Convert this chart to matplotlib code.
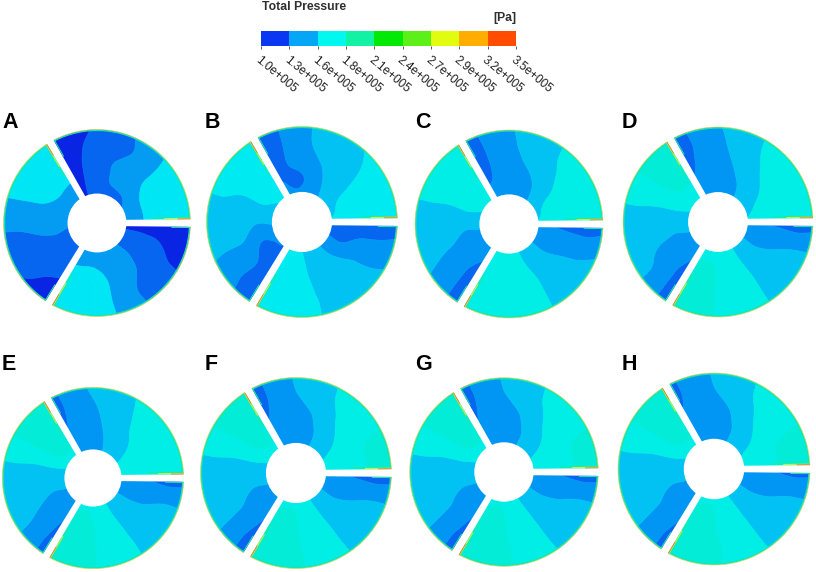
import numpy as np
import matplotlib
matplotlib.use("Agg")
import matplotlib.pyplot as plt
from matplotlib.colors import ListedColormap
from matplotlib.patches import Circle, Polygon

plt.rcParams["font.family"] = ["Liberation Sans", "DejaVu Sans"]

W, H = 816, 572

# colour bar
bar_ticks = ["1.0e+005", "1.3e+005", "1.6e+005", "1.8e+005", "2.1e+005",
             "2.4e+005", "2.7e+005", "2.9e+005", "3.2e+005", "3.5e+005"]
bar_colors = ["#0a38f2", "#06a6f6", "#00f8ee", "#12f2a4", "#02ea04",
              "#5cf018", "#e2fc10", "#ffae00", "#ff4c00"]

# bands used inside the discs, 1e5 Pa
levels = [0.9, 1.15, 1.3, 1.45, 1.6, 1.75, 2.2]
disc_colors = ["#0a24e4", "#0666f0", "#0296f4", "#02c2f4", "#00eee6", "#02ecd8"]
# panel A shows no sky band, mid goes straight to cyan
disc_colors_a = ["#0a24e4", "#0666f0", "#049cf2", "#00e6f4", "#00e6f4", "#02ecd8"]
disc_colors_b = ["#0a24e4", "#0666f0", "#0296f4", "#02c2f4", "#00eaf2", "#02ecd8"]
panel_colors = [disc_colors_a, disc_colors_b] + [disc_colors] * 6

# panel letters and where they sit
letters = ["A", "B", "C", "D", "E", "F", "G", "H"]
centers = [(97, 223), (302, 222), (509, 224), (718, 222),
           (93, 478), (296, 473), (504, 472), (714, 469)]
radii = [93.5, 95.5, 94, 95, 90.7, 95.5, 94.3, 96]
letter_pos = [(2, 122), (205, 122), (415, 122), (622, 122),
              (2, 365), (205, 365), (415, 365), (622, 365)]

gap_angles = [0, 120, 239]
hub_ratio = 0.315

# table rows: radius fraction, columns: fraction across the sector
table_r = [0.25, 0.45, 0.65, 0.85, 1.1]
table_t = [0, 0.2, 0.4, 0.6, 0.8, 1.0]

panel_a = [
    [[1.37, 1.30, 1.22, 1.22, 1.20, 1.10],
     [1.37, 1.37, 1.33, 1.31, 1.20, 1.08],
     [1.67, 1.67, 1.37, 1.32, 1.20, 1.05],
     [1.67, 1.67, 1.37, 1.25, 1.17, 1.05],
     [1.67, 1.67, 1.42, 1.27, 1.12, 1.05]],
    [[1.37, 1.37, 1.37, 1.28, 1.22, 1.20],
     [1.37, 1.40, 1.37, 1.32, 1.22, 1.20],
     [1.60, 1.67, 1.37, 1.30, 1.22, 1.18],
     [1.67, 1.67, 1.40, 1.27, 1.20, 1.05],
     [1.67, 1.67, 1.42, 1.26, 1.12, 1.03]],
    [[1.37, 1.37, 1.37, 1.30, 1.22, 1.08],
     [1.40, 1.42, 1.37, 1.32, 1.22, 1.08],
     [1.55, 1.67, 1.37, 1.30, 1.20, 1.07],
     [1.67, 1.67, 1.37, 1.24, 1.13, 1.05],
     [1.67, 1.67, 1.40, 1.25, 1.10, 1.03]],
]
panel_b = [
    [[1.60, 1.50, 1.48, 1.37, 1.37, 1.34],
     [1.67, 1.65, 1.52, 1.40, 1.22, 1.33],
     [1.67, 1.67, 1.55, 1.45, 1.37, 1.18],
     [1.67, 1.67, 1.58, 1.52, 1.37, 1.16],
     [1.67, 1.67, 1.62, 1.52, 1.38, 1.16]],
    [[1.64, 1.55, 1.50, 1.45, 1.37, 1.30],
     [1.67, 1.67, 1.54, 1.38, 1.22, 1.27],
     [1.67, 1.67, 1.52, 1.50, 1.36, 1.18],
     [1.67, 1.67, 1.58, 1.52, 1.35, 1.16],
     [1.67, 1.67, 1.58, 1.52, 1.42, 1.16]],
    [[1.60, 1.62, 1.52, 1.42, 1.30, 1.30],
     [1.67, 1.67, 1.52, 1.45, 1.26, 1.22],
     [1.67, 1.67, 1.56, 1.52, 1.37, 1.18],
     [1.67, 1.67, 1.58, 1.52, 1.40, 1.18],
     [1.67, 1.67, 1.58, 1.52, 1.45, 1.22]],
]
panel_c = [
    [[1.60, 1.50, 1.45, 1.37, 1.37, 1.34],
     [1.67, 1.66, 1.50, 1.36, 1.32, 1.30],
     [1.67, 1.67, 1.58, 1.46, 1.37, 1.22],
     [1.67, 1.67, 1.62, 1.52, 1.38, 1.22],
     [1.67, 1.67, 1.64, 1.52, 1.42, 1.22]],
    [[1.66, 1.62, 1.54, 1.46, 1.38, 1.34],
     [1.70, 1.70, 1.58, 1.42, 1.36, 1.30],
     [1.72, 1.72, 1.56, 1.50, 1.38, 1.22],
     [1.74, 1.72, 1.58, 1.52, 1.42, 1.20],
     [1.74, 1.72, 1.58, 1.52, 1.46, 1.20]],
    [[1.62, 1.66, 1.60, 1.50, 1.38, 1.36],
     [1.70, 1.70, 1.62, 1.50, 1.37, 1.30],
     [1.70, 1.70, 1.66, 1.52, 1.42, 1.24],
     [1.70, 1.70, 1.66, 1.52, 1.44, 1.20],
     [1.70, 1.70, 1.66, 1.52, 1.50, 1.24]],
]
panel_d = [
    [[1.60, 1.52, 1.48, 1.38, 1.36, 1.34],
     [1.68, 1.62, 1.50, 1.42, 1.34, 1.32],
     [1.70, 1.70, 1.60, 1.47, 1.37, 1.26],
     [1.70, 1.70, 1.66, 1.52, 1.38, 1.22],
     [1.70, 1.70, 1.68, 1.54, 1.42, 1.22]],
    [[1.66, 1.62, 1.56, 1.50, 1.38, 1.34],
     [1.74, 1.74, 1.58, 1.46, 1.36, 1.30],
     [1.78, 1.78, 1.58, 1.50, 1.38, 1.24],
     [1.78, 1.78, 1.60, 1.52, 1.46, 1.20],
     [1.78, 1.78, 1.60, 1.52, 1.48, 1.20]],
    [[1.64, 1.70, 1.66, 1.52, 1.42, 1.36],
     [1.76, 1.76, 1.68, 1.52, 1.40, 1.30],
     [1.76, 1.76, 1.70, 1.54, 1.44, 1.26],
     [1.76, 1.76, 1.70, 1.54, 1.50, 1.20],
     [1.76, 1.76, 1.70, 1.54, 1.52, 1.24]],
]
panel_e = [
    [[1.62, 1.62, 1.50, 1.44, 1.37, 1.34],
     [1.70, 1.68, 1.54, 1.46, 1.36, 1.32],
     [1.72, 1.72, 1.62, 1.50, 1.38, 1.28],
     [1.74, 1.74, 1.66, 1.52, 1.42, 1.24],
     [1.74, 1.74, 1.68, 1.56, 1.46, 1.24]],
    [[1.66, 1.62, 1.56, 1.50, 1.40, 1.36],
     [1.78, 1.80, 1.58, 1.48, 1.37, 1.32],
     [1.82, 1.82, 1.58, 1.52, 1.42, 1.26],
     [1.82, 1.82, 1.60, 1.52, 1.46, 1.22],
     [1.82, 1.82, 1.60, 1.52, 1.48, 1.22]],
    [[1.66, 1.72, 1.64, 1.52, 1.42, 1.36],
     [1.78, 1.78, 1.66, 1.52, 1.42, 1.30],
     [1.78, 1.78, 1.70, 1.52, 1.44, 1.28],
     [1.78, 1.78, 1.70, 1.54, 1.50, 1.22],
     [1.78, 1.78, 1.70, 1.54, 1.50, 1.24]],
]
panel_f = [
    [[1.62, 1.58, 1.50, 1.42, 1.37, 1.34],
     [1.72, 1.66, 1.52, 1.42, 1.36, 1.32],
     [1.74, 1.74, 1.62, 1.46, 1.38, 1.28],
     [1.76, 1.76, 1.68, 1.54, 1.42, 1.22],
     [1.76, 1.76, 1.70, 1.56, 1.44, 1.22]],
    [[1.66, 1.62, 1.56, 1.50, 1.40, 1.36],
     [1.78, 1.78, 1.58, 1.48, 1.37, 1.32],
     [1.80, 1.80, 1.58, 1.52, 1.44, 1.26],
     [1.80, 1.80, 1.60, 1.52, 1.46, 1.20],
     [1.80, 1.80, 1.60, 1.52, 1.48, 1.20]],
    [[1.66, 1.72, 1.64, 1.52, 1.42, 1.36],
     [1.78, 1.78, 1.68, 1.52, 1.40, 1.30],
     [1.78, 1.78, 1.70, 1.54, 1.44, 1.26],
     [1.78, 1.78, 1.72, 1.54, 1.50, 1.20],
     [1.78, 1.78, 1.72, 1.56, 1.52, 1.22]],
]
panel_g = [
    [[1.62, 1.58, 1.50, 1.43, 1.37, 1.34],
     [1.72, 1.66, 1.52, 1.42, 1.36, 1.32],
     [1.74, 1.74, 1.62, 1.46, 1.38, 1.28],
     [1.76, 1.76, 1.68, 1.54, 1.42, 1.23],
     [1.76, 1.76, 1.70, 1.56, 1.44, 1.23]],
    [[1.66, 1.62, 1.56, 1.50, 1.40, 1.36],
     [1.78, 1.78, 1.58, 1.49, 1.37, 1.32],
     [1.80, 1.80, 1.58, 1.52, 1.44, 1.26],
     [1.80, 1.80, 1.60, 1.52, 1.46, 1.21],
     [1.80, 1.80, 1.60, 1.53, 1.48, 1.21]],
    [[1.66, 1.72, 1.64, 1.52, 1.42, 1.36],
     [1.78, 1.78, 1.68, 1.53, 1.41, 1.30],
     [1.78, 1.78, 1.70, 1.54, 1.44, 1.27],
     [1.78, 1.78, 1.72, 1.54, 1.50, 1.21],
     [1.78, 1.78, 1.72, 1.56, 1.52, 1.23]],
]
panel_h = [
    [[1.63, 1.58, 1.50, 1.43, 1.37, 1.35],
     [1.73, 1.66, 1.52, 1.42, 1.36, 1.33],
     [1.75, 1.75, 1.62, 1.46, 1.38, 1.30],
     [1.76, 1.76, 1.68, 1.54, 1.42, 1.25],
     [1.76, 1.76, 1.70, 1.56, 1.44, 1.25]],
    [[1.66, 1.62, 1.56, 1.50, 1.41, 1.36],
     [1.78, 1.78, 1.58, 1.49, 1.37, 1.32],
     [1.80, 1.80, 1.58, 1.52, 1.44, 1.28],
     [1.80, 1.80, 1.60, 1.52, 1.46, 1.23],
     [1.80, 1.80, 1.60, 1.53, 1.48, 1.23]],
    [[1.67, 1.72, 1.64, 1.52, 1.42, 1.37],
     [1.78, 1.78, 1.68, 1.53, 1.41, 1.31],
     [1.78, 1.78, 1.70, 1.54, 1.44, 1.28],
     [1.78, 1.78, 1.72, 1.54, 1.50, 1.23],
     [1.78, 1.78, 1.72, 1.56, 1.52, 1.25]],
]
panels = [panel_a, panel_b, panel_c, panel_d, panel_e, panel_f, panel_g, panel_h]


def pixel_axes(fig, x, y, w, h):
    return fig.add_axes([x / W, 1 - (y + h) / H, w / W, h / H])


def refine(table):
    # finer polar mesh so the band edges come out curved
    table = np.asarray(table, dtype=float)
    rr = np.linspace(table_r[0], table_r[-1], 60)
    tt = np.linspace(0, 1, 80)
    by_r = np.array([np.interp(rr, table_r, table[:, j]) for j in range(table.shape[1])]).T
    fine = np.array([np.interp(tt, table_t, row) for row in by_r])
    # soften the kinks a bit
    kernel = np.ones(7) / 7
    pad = np.pad(fine, 3, mode="edge")
    pad = np.apply_along_axis(lambda v: np.convolve(v, kernel, mode="same"), 0, pad)
    pad = np.apply_along_axis(lambda v: np.convolve(v, kernel, mode="same"), 1, pad)
    return rr, tt, pad[3:-3, 3:-3]


def draw_gap(ax, angle):
    a = np.radians(angle)
    d = np.array([np.cos(a), np.sin(a)])
    n = np.array([-d[1], d[0]])
    r0, r1 = 0.2, 1.15
    hw0, hw1 = 0.033, 0.042
    verts = [d * r0 + n * hw0, d * r1 + n * hw1, d * r1 - n * hw1, d * r0 - n * hw0]
    ax.add_patch(Polygon(verts, facecolor="white", edgecolor="none", zorder=4))
    # hot strip on the counter-clockwise edge of the gap
    clip = Circle((0, 0), 1.0, transform=ax.transData)
    strips = [(0.6, 0.016, "#18eca0", 1.0), (0.72, 0.009, "#c8f040", 0.8), (0.86, 0.004, "#f07830", 0.6)]
    for start, off, col, lw in strips:
        rs = np.array([start, 1.0])
        hw = hw0 + (hw1 - hw0) * (rs - r0) / (r1 - r0)
        xy = np.outer(rs, d) + np.outer(hw + off, n)
        ln, = ax.plot(xy[:, 0], xy[:, 1], color=col, lw=lw, zorder=5, solid_capstyle="butt")
        ln.set_clip_path(clip)
    # thin green on the other side, near the tip only
    rs = np.array([0.8, 1.0])
    hw = hw0 + (hw1 - hw0) * (rs - r0) / (r1 - r0)
    xy = np.outer(rs, d) - np.outer(hw + 0.008, n)
    ln, = ax.plot(xy[:, 0], xy[:, 1], color="#20eca0", lw=0.7, zorder=5)
    ln.set_clip_path(clip)


fig = plt.figure(figsize=(W / 100, H / 100), dpi=100, facecolor="white")

# colour bar on top
cax = pixel_axes(fig, 261, 31, 255, 15)
edges = np.arange(len(bar_ticks))
cax.pcolormesh(edges, [0, 1], np.arange(len(bar_colors)).reshape(1, -1),
               cmap=ListedColormap(bar_colors), shading="flat")
cax.set_xlim(0, len(bar_ticks) - 1)
cax.set_yticks([])
cax.set_xticks(edges)
cax.set_xticklabels(bar_ticks, rotation=-40, ha="left", va="top",
                    rotation_mode="anchor", fontsize=8.6, color="#202020")
cax.tick_params(axis="x", length=2.5, width=0.6, pad=3, color="#404040")
for s in cax.spines.values():
    s.set_visible(False)

fig.text(262 / W, 1 - 7 / H, "Total Pressure", fontsize=8.8, fontweight="bold",
         color="#303030", va="center", ha="left")
fig.text(516 / W, 1 - 18 / H, "[Pa]", fontsize=8.8, fontweight="bold",
         color="#303030", va="center", ha="right")

# the eight discs
for i, table_set in enumerate(panels):
    cx, cy = centers[i]
    rad = radii[i]
    box = rad * 1.02
    ax = pixel_axes(fig, cx - box, cy - box, box * 2, box * 2)
    ax.set_xlim(-1.02, 1.02)
    ax.set_ylim(-1.02, 1.02)
    ax.axis("off")

    for k, table in enumerate(table_set):
        rr, tt, fine = refine(table)
        start = gap_angles[k]
        end = gap_angles[k + 1] if k < 2 else 360
        th = np.radians(start + tt * (end - start))
        x = np.outer(rr, np.cos(th))
        y = np.outer(rr, np.sin(th))
        cs = ax.contourf(x, y, fine, levels=levels, colors=panel_colors[i], zorder=2)
        cs.set_clip_path(Circle((0, 0), 1.0, transform=ax.transData))
        cs.set_antialiased(True)
        cs.set_edgecolor("face")
        cs.set_linewidth(0.5)

    arc = np.radians(np.linspace(0, 360, 361))
    ax.plot(0.99 * np.cos(arc), 0.99 * np.sin(arc), color="#14e8a8", lw=0.9, zorder=3)
    ax.plot(1.0 * np.cos(arc), 1.0 * np.sin(arc), color="#e0d868", lw=0.5, zorder=3)

    for ang in gap_angles:
        draw_gap(ax, ang)

    ax.add_patch(Circle((0, 0), hub_ratio, facecolor="white", edgecolor="none", zorder=6))

    fig.text(letter_pos[i][0] / W, 1 - letter_pos[i][1] / H, letters[i], fontsize=15.5,
             fontweight="bold", color="black", va="center", ha="left")

fig.savefig("out.png", dpi=100)
